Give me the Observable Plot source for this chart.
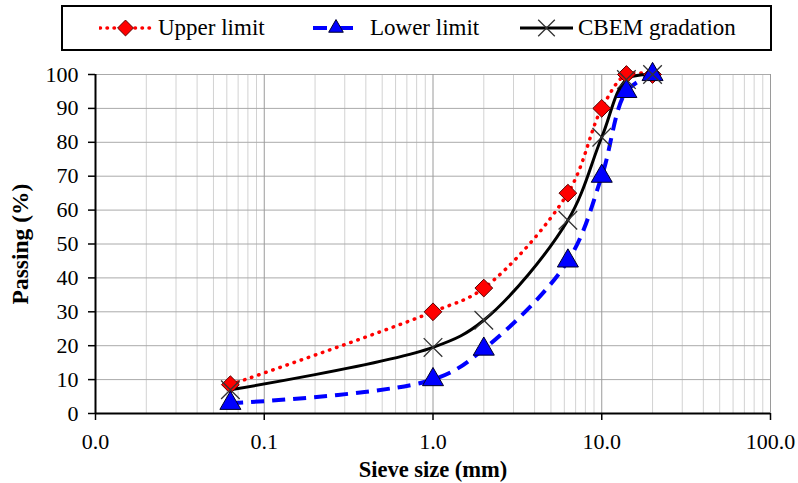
<!DOCTYPE html>
<html><head><meta charset="utf-8">
<script src="https://cdn.jsdelivr.net/npm/d3@7"></script>
<script src="https://cdn.jsdelivr.net/npm/@observablehq/plot@0.6"></script>
<style>
body{margin:0;background:#fff;font-family:"Liberation Serif","Times New Roman",Times,"Nimbus Roman","Noto Serif","DejaVu Serif",FreeSerif,serif;}
#legend{position:relative;width:798px;height:56px;}
#box{position:absolute;left:61px;top:5px;width:707px;height:42px;border:2px solid #000;}
.item{position:absolute;top:5px;height:46px;display:flex;align-items:center;font-size:23px;color:#000;white-space:nowrap;}
.item svg{display:block;}
#chart svg{display:block;}
</style></head><body>
<div id="legend"><div id="box"></div></div>
<div id="chart"></div>
<script>
// Data
const sieve = [0.063, 1, 2, 6.3, 10, 14, 20];            // sieve size (mm)
const upper = [8.5, 30, 37, 65, 90, 100, 100];            // Upper limit (%)
const lower = [3, 10, 19, 45, 70, 95, 100];               // Lower limit (%)
const cbem  = [7, 19.5, 27.5, 57, 81.5, 98.5, 100];        // CBEM gradation (%)
const seriesNames = ["Upper limit", "Lower limit", "CBEM gradation"];
const xTicks = [0.01, 0.1, 1, 10, 100];
const yTicks = [0, 10, 20, 30, 40, 50, 60, 70, 80, 90, 100];

const styles = [
  {stroke: "#ff0000", width: 3.5, dash: "0.5,7", cap: "round", symbol: "diamond2", r: 8, fill: "#ff0000", mstroke: "#5a0000", msw: 1},
  {stroke: "#0000ff", width: 4, dash: "13,8", cap: "butt", symbol: "triangle", r: 7.8, fill: "#0000ff", mstroke: "#00002a", msw: 1},
  {stroke: "#000000", width: 3, dash: null, cap: "butt", symbol: "times", r: 8.5, fill: "none", mstroke: "#333", msw: 1.3}
];
const values = [upper, lower, cbem];
const datasets = values.map(v => sieve.map((x, i) => ({x, y: v[i]})));
const FONT = "'Liberation Serif','Times New Roman',Times,'Nimbus Roman','Noto Serif','DejaVu Serif',FreeSerif,serif";

// Legend (HTML)
const legendPos = [{left: 99, w: 53, gap: 6}, {left: 312, w: 42, gap: 16}, {left: 519, w: 55, gap: 4}];
const symMap = {diamond2: d3.symbolDiamond2, triangle: d3.symbolTriangle2, times: d3.symbolTimes};
seriesNames.forEach((name, k) => {
  const s = styles[k], p = legendPos[k];
  const item = d3.select("#legend").append("div").attr("class", "item").style("left", p.left + "px");
  const sv = item.append("svg").attr("width", p.w).attr("height", 46);
  sv.append("line").attr("x1", 1).attr("x2", p.w - 1).attr("y1", 23).attr("y2", 23)
    .attr("stroke", s.stroke).attr("stroke-width", s.width)
    .attr("stroke-dasharray", k === 0 ? "0.5,6.5" : (k === 1 ? "14,12" : null))
    .attr("stroke-linecap", s.cap);
  sv.append("path").attr("transform", `translate(${p.w / 2 + (k === 1 ? 3 : 0)},23)`)
    .attr("d", d3.symbol(symMap[s.symbol], s.r * s.r * Math.PI * 0.8)())
    .attr("fill", s.fill).attr("stroke", s.mstroke).attr("stroke-width", s.msw);
  item.append("span").style("margin-left", p.gap + "px").text(name);
});

// Grid lines
const allX = d3.scaleLog().domain([0.01, 100]).ticks();
const majorX = [0.1, 1, 10, 100];
const minorX = allX.filter(v => !majorX.some(m => Math.abs(m - v) < 1e-9) && v > 0.0100001);

const marks = [
  Plot.ruleX(minorX, {stroke: "#d2d2d2", strokeWidth: 1}),
  Plot.ruleY(yTicks.filter(d => d > 0), {stroke: "#aaaaaa", strokeWidth: 1}),
  Plot.ruleX(majorX, {stroke: "#9a9a9a", strokeWidth: 1}),
];
datasets.forEach((d, k) => {
  const s = styles[k];
  marks.push(Plot.line(d, {x: "x", y: "y", curve: "catmull-rom", stroke: s.stroke, strokeWidth: s.width,
    strokeDasharray: s.dash, strokeLinecap: s.cap}));
});
datasets.forEach((d, k) => {
  const s = styles[k];
  marks.push(Plot.dot(d, {x: "x", y: "y", symbol: () => s.symbol, r: s.r, fill: s.fill,
    stroke: s.mstroke, strokeWidth: s.msw}));
});
marks.push(
  Plot.ruleY([0], {stroke: "#000", strokeWidth: 2}),
  Plot.ruleX([0.01], {stroke: "#000", strokeWidth: 2}),
  Plot.axisX({ticks: xTicks, tickFormat: d3.format(".1f"), tickSize: 7, tickPadding: 13, strokeWidth: 1.5,
    label: "Sieve size (mm)", labelAnchor: "center", labelOffset: 63, labelArrow: "none"}),
  Plot.axisY({ticks: yTicks, tickFormat: d3.format("d"), tickSize: 7, tickPadding: 10, strokeWidth: 1.5,
    label: "Passing (%)", labelAnchor: "center", labelOffset: 84, labelArrow: "none"})
);

const chart = Plot.plot({
  width: 798,
  height: 427,
  marginLeft: 95,
  marginRight: 28,
  marginTop: 18,
  marginBottom: 70,
  style: {fontFamily: FONT, fontSize: "22px", color: "#000", background: "#fff"},
  x: {type: "log", domain: [0.01, 100]},
  y: {domain: [0, 100]},
  symbol: {type: "identity"},
  marks
});
document.getElementById("chart").appendChild(chart);

// serif font on all texts, bold axis titles
d3.select(chart).selectAll("text").attr("font-family", FONT).each(function () {
  const t = this.textContent;
  if (t === "Sieve size (mm)") d3.select(this).attr("font-weight", "bold").attr("font-size", 22.5);
  if (t === "Passing (%)") d3.select(this).attr("font-weight", "bold").attr("font-size", 23.5);
});
</script>
</body></html>
